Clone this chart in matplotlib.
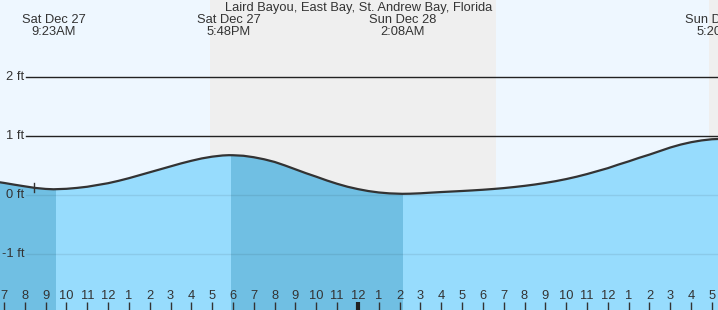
import matplotlib
matplotlib.use("Agg")
import matplotlib.pyplot as plt
import matplotlib.transforms as mtransforms
from matplotlib.patches import Rectangle
import numpy as np

plt.rcParams['font.family'] = ['Liberation Sans', 'DejaVu Sans']

# ---- data (hours since midnight Sat Dec 27) ----
times = [6.81, 7.0, 7.5, 8.0, 8.5, 9.0, 9.38, 10.0, 10.5, 11.0, 11.5, 12.0, 12.5, 13.0,
         13.5, 14.0, 14.5, 15.0, 15.5, 16.0, 16.5, 17.0, 17.5, 17.8, 18.0, 18.5, 19.0,
         19.5, 20.0, 20.5, 21.0, 21.5, 22.0, 22.5, 23.0, 23.5, 24.0, 24.5, 25.0, 25.5,
         26.13, 26.5, 27.0, 27.5, 28.0, 28.5, 29.0, 29.5, 30.0, 30.5, 31.0, 31.5, 32.0,
         32.5, 33.0, 33.5, 34.0, 34.5, 35.0, 35.5, 36.0, 36.5, 37.0, 37.5, 38.0, 38.5,
         39.0, 39.5, 40.0, 40.5, 41.0, 41.33]
heights = [0.22, 0.21, 0.18, 0.152, 0.125, 0.108, 0.102, 0.11, 0.125, 0.145, 0.175, 0.205,
           0.245, 0.29, 0.34, 0.39, 0.44, 0.49, 0.54, 0.585, 0.625, 0.655, 0.675, 0.68,
           0.679, 0.67, 0.645, 0.61, 0.565, 0.505, 0.44, 0.375, 0.315, 0.252, 0.195, 0.145,
           0.105, 0.072, 0.048, 0.033, 0.025, 0.027, 0.034, 0.045, 0.055, 0.064, 0.073,
           0.083, 0.094, 0.107, 0.122, 0.14, 0.16, 0.183, 0.21, 0.24, 0.275, 0.315, 0.36,
           0.41, 0.46, 0.52, 0.575, 0.635, 0.69, 0.75, 0.81, 0.86, 0.90, 0.93, 0.95, 0.955]

falling_spans = [(6.5, 9.5), (17.9, 26.16)]

extreme_times = [9.383, 17.8, 26.133, 41.333]
extreme_dates = ["Sat Dec 27", "Sat Dec 27", "Sun Dec 28", "Sun Dec 28"]
extreme_labels = ["9:23AM", "5:48PM", "2:08AM", "5:20PM"]

night_spans = [(16.89, 30.63), (40.86, 42.0)]
now_time = 8.44

y_ticks = [2, 1, 0, -1]
y_tick_labels = ["2 ft", "1 ft", "0 ft", "-1 ft"]
hour_ticks = list(range(7, 42))
title = "Laird Bayou, East Bay, St. Andrew Bay, Florida"

# ---- styling ----
W, H = 718, 310
day_col = "#eef7ff"
night_col = "#efefef"
light_water = "#97dcfd"
dark_water = "#70bfe3"
text_col = "#333333"
fs = 9.3
x0, x1 = 6.81, 41.29
y0, y1 = -1.944, 3.31

fig = plt.figure(figsize=(W / 100, H / 100), dpi=100)
ax = fig.add_axes([0, 0, 1, 1])
ax.set_xlim(x0, x1)
ax.set_ylim(y0, y1)
ax.axis("off")

ax.axvspan(x0, x1, color=day_col, zorder=0, lw=0)
for a, b in night_spans:
    ax.axvspan(a, b, color=night_col, zorder=0.5, lw=0)

for y in y_ticks:
    ax.axhline(y, xmin=26 / W, xmax=1, color="#222222", lw=1, zorder=1)

t = np.array(times)
h = np.array(heights)
ax.fill_between(t, h, y0 - 1, color=light_water, lw=0, zorder=2)
for a, b in falling_spans:
    poly = ax.fill_between(t, h, y0 - 1, color=dark_water, lw=0, zorder=2.1)
    clip = Rectangle((a, y0 - 1), b - a, y1 - y0 + 2, transform=ax.transData)
    poly.set_clip_path(clip)

for y in [0, -1]:
    ax.axhline(y, xmin=26 / W, xmax=1, color=(0, 0, 0, 0.08), lw=1, zorder=3)

ax.plot(t, h, color="#333333", lw=1.6, zorder=4, solid_joinstyle="round")

# current-time marker
hn = np.interp(now_time, t, h)
ax.plot([now_time, now_time], [hn - 0.08, hn + 0.08], color="#333333", lw=1, zorder=5)

blend_x = mtransforms.blended_transform_factory(ax.transData, ax.transAxes)
blend_y = mtransforms.blended_transform_factory(ax.transAxes, ax.transData)

# y labels
for y, lab in zip(y_ticks, y_tick_labels):
    ax.text(24 / W, y, lab, transform=blend_y, ha="right", va="center",
            fontsize=fs, color=text_col, zorder=6)

# hour ticks
for hr in hour_ticks:
    lab = str((hr - 1) % 12 + 1)
    ax.text(hr, 1 - 296 / H, lab, transform=blend_x, ha="center", va="center",
            fontsize=fs, color=text_col, zorder=6)
    if hr % 24 == 0:
        ax.plot([hr, hr], [0, 8 / H], transform=blend_x, color="#222222", lw=3,
                zorder=6, solid_capstyle="butt")
    else:
        ax.plot([hr, hr], [0, 8 / H], transform=blend_x, color="#333333", lw=1,
                zorder=6, solid_capstyle="butt")

# extreme labels
for et, ed, el in zip(extreme_times, extreme_dates, extreme_labels):
    ax.text(et, 1 - 20 / H, ed, transform=blend_x, ha="center", va="center",
            fontsize=fs, color=text_col, zorder=6)
    ax.text(et, 1 - 32 / H, el, transform=blend_x, ha="center", va="center",
            fontsize=fs, color=text_col, zorder=6)

ax.text(0.5, 1 - 7.5 / H, title, transform=ax.transAxes, ha="center", va="center",
        fontsize=fs, color=text_col, zorder=6)

fig.savefig("out.png", dpi=100)
